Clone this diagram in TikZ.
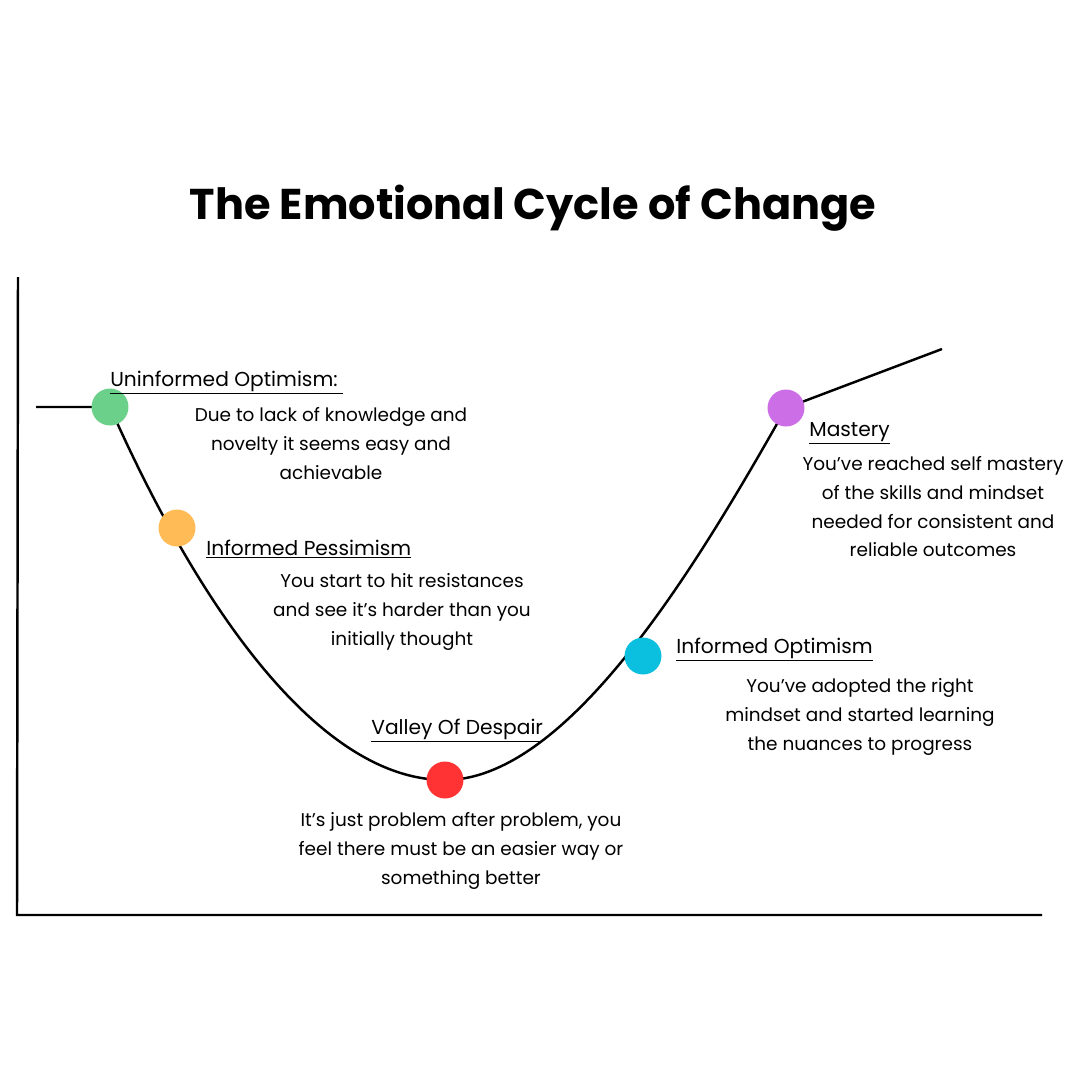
\documentclass[tikz,border=0pt]{standalone}
\usepackage{fontspec}
\setmainfont{Poppins}
\definecolor{cgreen}{HTML}{6BD08A}
\definecolor{corange}{HTML}{FFBB55}
\definecolor{cred}{HTML}{FF3333}
\definecolor{ccyan}{HTML}{0BBFDF}
\definecolor{cpurple}{HTML}{CC6EE6}
\tikzset{
    stage/.style={circle,inner sep=0pt,minimum size=0.74cm},
    head/.style={inner sep=0pt,anchor=base west,font=\fontsize{11.5}{14}\selectfont},
    desc/.style={inner sep=0pt,anchor=north,align=center,font=\fontsize{10.5}{16.4}\selectfont}
}
\begin{document}
\begin{tikzpicture}[x=0.02cm,y=-0.02cm]
            \useasboundingbox (0,0) rectangle (1080,1080);

            % axes
            \draw[line width=1.4pt]
                (18,277) -- (17,915) -- (1042,915);

            % curve
            \draw[line width=1.4pt]
                (36,407) -- (110,407)
                .. controls (200,610) and (320,780) .. (445,780)
                .. controls (570,780) and (700,560) .. (786,408)
                -- (942,349);

            \node (title) at (533,208) {\fontsize{24.5}{30}\selectfont\bfseries The Emotional Cycle of Change};

            \node[stage,fill=cgreen] (s1) at (110,407) {};
            \node[stage,fill=corange] (s2) at (177,528) {};
            \node[stage,fill=cred] (s3) at (445,780) {};
            \node[stage,fill=ccyan] (s4) at (643,656) {};
            \node[stage,fill=cpurple] (s5) at (786,408) {};

            \node[head] (h1) at (110,386) {\underline{Uninformed Optimism:\ }};
            \node[desc] (d1) at (331,407) {Due to lack of knowledge and\\
                novelty it seems easy and\\achievable};

            \node[head] (h2) at (206,555) {\underline{Informed Pessimism}};
            \node[desc] (d2) at (402,573) {You start to hit resistances\\
                and see it’s harder than you\\initially thought};

            \node[head] (h3) at (371,734) {\underline{Valley Of Despair}};
            \node[desc] (d3) at (461,812) {It’s just problem after problem, you\\
                feel there must be an easier way or\\something better};

            \node[head] (h4) at (676,653) {\underline{Informed Optimism}};
            \node[desc] (d4) at (860,678) {You’ve adopted the right\\
                mindset and started learning\\the nuances to progress};

            \node[head] (h5) at (809,436) {\underline{Mastery}};
            \node[desc] (d5) at (933,456) {You’ve reached self mastery\\
                of the skills and mindset\\needed for consistent and\\reliable outcomes};
\end{tikzpicture}
\end{document}
